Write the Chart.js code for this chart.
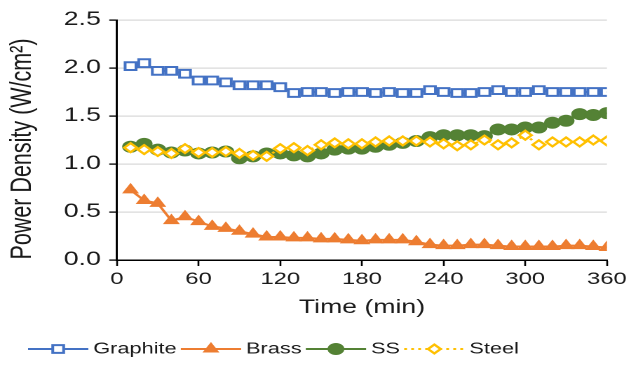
<!DOCTYPE html>
<html><head><meta charset="utf-8">
<script src="https://cdn.jsdelivr.net/npm/chart.js@4.4.0/dist/chart.umd.min.js"></script>
<style>html,body{margin:0;padding:0;background:#fff;overflow:hidden}</style>
</head><body>
<canvas id="c" width="450" height="365" style="width:631px;height:365px;display:block"></canvas>
<script>
// ---- data ----
const times = [10,20,30,40,50,60,70,80,90,100,110,120,130,140,150,160,170,180,
               190,200,210,220,230,240,250,260,270,280,290,300,310,320,330,340,350,360];
const graphite = [2.02,2.05,1.97,1.97,1.94,1.87,1.87,1.85,1.82,1.82,1.82,1.80,1.74,1.75,1.75,1.74,1.75,1.75,
                  1.74,1.75,1.74,1.74,1.77,1.75,1.74,1.74,1.75,1.77,1.75,1.75,1.77,1.75,1.75,1.75,1.75,1.75];
const brass = [0.73,0.62,0.59,0.41,0.45,0.40,0.35,0.33,0.30,0.27,0.24,0.24,0.23,0.23,0.22,0.22,0.21,0.20,
               0.21,0.21,0.21,0.19,0.16,0.15,0.15,0.16,0.16,0.15,0.14,0.14,0.14,0.14,0.15,0.15,0.14,0.13];
const ss = [1.18,1.21,1.15,1.12,1.14,1.11,1.12,1.13,1.06,1.08,1.11,1.11,1.09,1.08,1.11,1.15,1.16,1.16,
            1.18,1.20,1.22,1.24,1.28,1.30,1.30,1.30,1.29,1.36,1.36,1.38,1.38,1.43,1.45,1.52,1.51,1.53];
const steel = [1.17,1.15,1.13,1.11,1.16,1.12,1.12,1.13,1.11,1.09,1.08,1.16,1.17,1.14,1.20,1.22,1.21,1.21,
               1.23,1.24,1.24,1.24,1.23,1.21,1.19,1.20,1.25,1.20,1.22,1.30,1.20,1.23,1.23,1.23,1.25,1.24];
const seriesNames = ['Graphite','Brass','SS','Steel'];
const xTicks = [0,60,120,180,240,300,360];
const yTicks = [0.0,0.5,1.0,1.5,2.0,2.5];
const xTitle = 'Time (min)';
const yTitle = 'Power Density (W/cm\u00B2)';

const FONT = '"Liberation Sans", Arial, sans-serif';
const TEXT = '#1a1a1a';

function pts(vals){ return times.map((t,i)=>({x:t, y:vals[i]})); }

function drawMarker(ctx, style, r, x, y){
  ctx.beginPath();
  if(style==='rect'){ const s=Math.SQRT1_2*r; ctx.rect(x-s,y-s,2*s,2*s); }
  else if(style==='triangle'){
    for(let k=0;k<3;k++){ const a=k*2*Math.PI/3; const px=x+Math.sin(a)*r, py=y-Math.cos(a)*r; k?ctx.lineTo(px,py):ctx.moveTo(px,py);} ctx.closePath(); }
  else if(style==='rectRot'){ ctx.moveTo(x,y-r); ctx.lineTo(x+r,y); ctx.lineTo(x,y+r); ctx.lineTo(x-r,y); ctx.closePath(); }
  else { ctx.arc(x,y,r,0,Math.PI*2); }
  ctx.fill(); ctx.stroke();
}

const extrasPlugin = {
  id:'extras',
  afterDraw(chart){
    const ctx = chart.ctx;
    ctx.save();
    // y axis title
    ctx.save();
    ctx.translate(16, 149);
    ctx.rotate(-Math.PI/2);
    ctx.font = '21.5px ' + FONT;
    ctx.fillStyle = TEXT; ctx.textAlign = 'center'; ctx.textBaseline = 'middle';
    ctx.fillText(yTitle, 0, 0);
    ctx.restore();
    // legend
    ctx.font = '15.5px ' + FONT;
    ctx.textBaseline = 'middle';
    let x = 20; const y = 349;
    chart.data.datasets.forEach(ds=>{
      ctx.strokeStyle = ds.borderColor; ctx.lineWidth = ds.borderWidth;
      ctx.setLineDash(ds.borderDash || []);
      ctx.beginPath(); ctx.moveTo(x,y); ctx.lineTo(x+43,y); ctx.stroke();
      ctx.setLineDash([]);
      ctx.fillStyle = ds.pointBackgroundColor; ctx.strokeStyle = ds.pointBorderColor; ctx.lineWidth = ds.pointBorderWidth;
      drawMarker(ctx, ds.pointStyle, ds.pointRadius, x+21.5, y);
      ctx.fillStyle = TEXT;
      ctx.fillText(ds.label, x+46.5, y);
      x += 46.5 + ctx.measureText(ds.label).width + 3;
    });
    ctx.restore();
  }
};

new Chart(document.getElementById('c'), {
  type:'line',
  data:{ datasets:[
    {label:seriesNames[0], data:pts(graphite), borderColor:'#4472C4', borderWidth:2,
     pointStyle:'rect', pointRadius:5.5, pointBorderWidth:2, pointBackgroundColor:'#ffffff', pointBorderColor:'#4472C4', order:1},
    {label:seriesNames[1], data:pts(brass), borderColor:'#ED7D31', borderWidth:2,
     pointStyle:'triangle', pointRadius:6, pointBorderWidth:1, pointBackgroundColor:'#ED7D31', pointBorderColor:'#ED7D31', order:2},
    {label:seriesNames[2], data:pts(ss), borderColor:'#548235', borderWidth:2,
     pointStyle:'circle', pointRadius:5.5, pointBorderWidth:1, pointBackgroundColor:'#548235', pointBorderColor:'#548235', order:3},
    {label:seriesNames[3], data:pts(steel), borderColor:'#FFC000', borderWidth:2, borderDash:[2,3],
     pointStyle:'rectRot', pointRadius:4.5, pointBorderWidth:2, pointBackgroundColor:'#ffffff', pointBorderColor:'#FFC000', order:0}
  ]},
  options:{
    responsive:false, animation:false, devicePixelRatio:2,
    layout:{padding:{top:20,right:17,left:0,bottom:0}},
    plugins:{legend:{display:false}, tooltip:{enabled:false}},
    elements:{line:{tension:0}},
    scales:{
      x:{type:'linear', min:0, max:360,
         afterBuildTicks(s){ s.ticks = xTicks.map(v=>({value:v})); },
         afterFit(s){ s.height = 105; },
         grid:{drawOnChartArea:false, drawTicks:true, tickLength:6, tickColor:'#000', tickWidth:1.3},
         border:{display:true, color:'#000', width:1.5},
         ticks:{padding:3, color:TEXT, font:{family:FONT, size:17}, maxRotation:0},
         title:{display:true, text:xTitle, color:TEXT, font:{family:FONT, size:19}, padding:{top:4,bottom:46}}
      },
      y:{min:0, max:2.5,
         afterBuildTicks(s){ s.ticks = yTicks.map(v=>({value:v})); },
         afterFit(s){ s.width = 83.4; },
         grid:{color:'#d9d9d9', lineWidth:1.2, drawTicks:true, tickLength:5.5, tickColor:'#000', tickWidth:1.3},
         border:{display:true, color:'#000', width:1.5},
         ticks:{padding:6, color:TEXT, font:{family:FONT, size:19}, callback:v=>v.toFixed(1)},
         title:{display:false}
      }
    }
  },
  plugins:[extrasPlugin]
});
</script>
</body></html>
